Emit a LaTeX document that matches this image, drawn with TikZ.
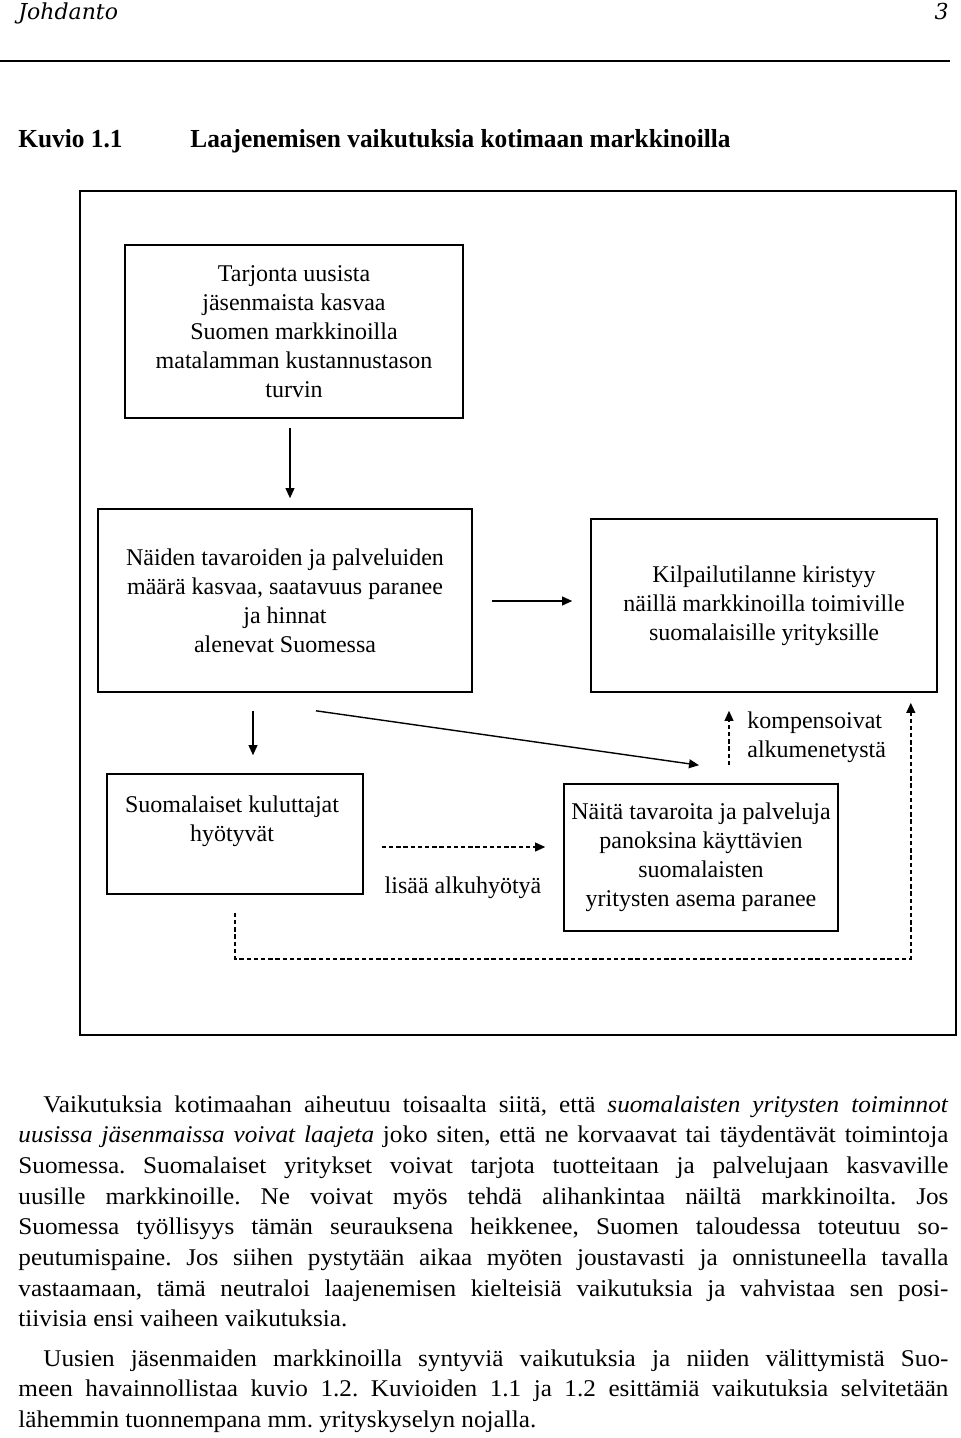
\documentclass[tikz,border=0pt]{standalone}
\usepackage{fontspec}
\setmainfont{Liberation Serif}
\newfontfamily\bodyfont[FakeStretch=1.05]{Liberation Serif}
\newfontfamily\titlefont[FakeStretch=0.975]{Liberation Serif}
\newfontfamily\headfont{DejaVu Serif}
\usetikzlibrary{arrows.meta,calc}
\newcommand\jl[1]{\hbox to 465pt{#1}}
\begin{document}
\begin{tikzpicture}[x=0.5pt,y=-0.5pt,
  box/.style={draw, line width=0.8pt, align=center, inner sep=0pt,
    font=\fontsize{12}{14.5}\selectfont},
  lbl/.style={inner sep=0pt, align=center, font=\fontsize{12}{14.5}\selectfont},
  arr/.style={line width=0.7pt, -{Triangle[length=5pt,width=4.4pt]}},
  darr/.style={arr, dash pattern=on 2.2pt off 1.4pt},
  body/.style={anchor=base west, inner sep=0pt}]
\useasboundingbox (0,0) rectangle (960,1438);
\fill[white] (0,0) rectangle (960,1438);
% header
\node[anchor=base west, inner sep=0pt, font=\headfont\itshape\fontsize{11}{12}\selectfont] (hd) at (18,20) {Johdanto};
\node[anchor=base east, inner sep=0pt, font=\headfont\itshape\fontsize{11}{12}\selectfont] (pg) at (949,20) {3};
\draw[line width=0.8pt] (0,61) -- (950,61);
% title
\node[anchor=base west, inner sep=0pt, font=\titlefont\bfseries\fontsize{13}{15}\selectfont] (kv) at (18,148) {Kuvio 1.1};
\node[anchor=base west, inner sep=0pt, font=\titlefont\bfseries\fontsize{13}{15}\selectfont] (tt) at (190,148) {Laajenemisen vaikutuksia kotimaan markkinoilla};
% frame
\draw[line width=1.2pt] (80,191) rectangle (956,1035);
% boxes
\node[box, minimum width=169pt, minimum height=86.5pt] (b1) at (294,331.5)
  {Tarjonta uusista\\jäsenmaista kasvaa\\Suomen markkinoilla\\matalamman kustannustason\\turvin};
\node[box, minimum width=187pt, minimum height=91.5pt] (b2) at (285,600.5)
  {Näiden tavaroiden ja palveluiden\\määrä kasvaa, saatavuus paranee\\ja hinnat\\alenevat Suomessa};
\node[box, minimum width=173pt, minimum height=86.5pt] (b3) at (764,605.5)
  {Kilpailutilanne kiristyy\\näillä markkinoilla toimiville\\suomalaisille yrityksille};
\node[box, minimum width=128pt, minimum height=60pt] (b4) at (235,834) {};
\node[lbl] (t4) at (232,821) {Suomalaiset kuluttajat\\hyötyvät};
\node[box, minimum width=137pt, minimum height=73.5pt] (b5) at (701,857.5)
  {Näitä tavaroita ja palveluja\\panoksina käyttävien\\suomalaisten\\yritysten asema paranee};
% labels
\node[lbl, anchor=west, align=left] (komp) at (747,737.5) {kompensoivat\\alkumenetystä};
\node[lbl] (lisa) at (463,888) {lisää alkuhyötyä};
% connectors
\draw[arr] ($(b1.south)+(-4,9)$) -- ($(b2.north)+(5,-10)$);
\draw[arr] ($(b2.east)+(19,0.5)$) -- ($(b3.west)+(-18,-4.5)$);
\draw[arr] ($(b2.south)+(-32,18)$) -- ($(b4.north)+(18,-18)$);
\draw[arr] ($(b2.south)+(31,18)$) -- ($(b5.north)+(-2,-18)$);
\draw[darr] ($(b5.north)+(28,-18)$) -- ($(b3.south)+(-35,18)$);
\draw[darr] ($(b4.east)+(18,13)$) -- ($(b5.west)+(-18,-10.5)$);
\draw[darr] ($(b4.south)+(0,18)$) |- ($(b3.south east)+(-27,266)$) -- ($(b3.south east)+(-27,10)$);
% body text
\node[body] (p1) at (18,1112) {\vtop{\bodyfont\fontsize{12}{15.35}\selectfont\frenchspacing
\jl{\hspace*{12.5pt}Vaikutuksia kotimaahan aiheutuu toisaalta siitä, että \textit{suomalaisten yritysten toiminnot}}
\jl{\textit{uusissa jäsenmaissa voivat laajeta} joko siten, että ne korvaavat tai täydentävät toimintoja}
\jl{Suomessa. Suomalaiset yritykset voivat tarjota tuotteitaan ja palvelujaan kasvaville}
\jl{uusille markkinoille. Ne voivat myös tehdä alihankintaa näiltä markkinoilta. Jos}
\jl{Suomessa työllisyys tämän seurauksena heikkenee, Suomen taloudessa toteutuu so-}
\jl{peutumispaine. Jos siihen pystytään aikaa myöten joustavasti ja onnistuneella tavalla}
\jl{vastaamaan, tämä neutraloi laajenemisen kielteisiä vaikutuksia ja vahvistaa sen posi-}
\hbox{tiivisia ensi vaiheen vaikutuksia.}}};
\node[body] (p2) at (18,1366) {\vtop{\bodyfont\fontsize{12}{15.35}\selectfont\frenchspacing
\jl{\hspace*{12.5pt}Uusien jäsenmaiden markkinoilla syntyviä vaikutuksia ja niiden välittymistä Suo-}
\jl{meen havainnollistaa kuvio 1.2. Kuvioiden 1.1 ja 1.2 esittämiä vaikutuksia selvitetään}
\hbox{lähemmin tuonnempana mm. yrityskyselyn nojalla.}}};
\end{tikzpicture}
\end{document}
